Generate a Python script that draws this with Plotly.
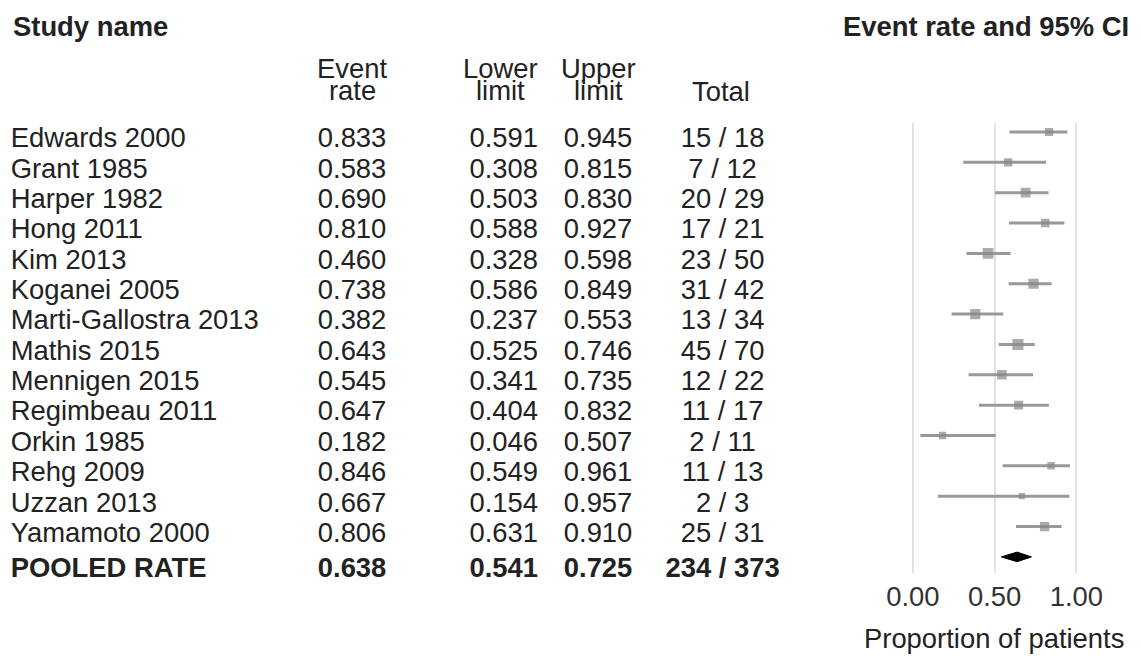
import plotly.graph_objects as go

# ---------------- data ----------------
studies = ["Edwards 2000", "Grant 1985", "Harper 1982", "Hong 2011", "Kim 2013",
           "Koganei 2005", "Marti-Gallostra 2013", "Mathis 2015", "Mennigen 2015",
           "Regimbeau 2011", "Orkin 1985", "Rehg 2009", "Uzzan 2013", "Yamamoto 2000"]
event_rate = [0.833, 0.583, 0.690, 0.810, 0.460, 0.738, 0.382, 0.643, 0.545,
              0.647, 0.182, 0.846, 0.667, 0.806]
lower_limit = [0.591, 0.308, 0.503, 0.588, 0.328, 0.586, 0.237, 0.525, 0.341,
               0.404, 0.046, 0.549, 0.154, 0.631]
upper_limit = [0.945, 0.815, 0.830, 0.927, 0.598, 0.849, 0.553, 0.746, 0.735,
               0.832, 0.507, 0.961, 0.957, 0.910]
events = [15, 7, 20, 17, 23, 31, 13, 45, 12, 11, 2, 11, 2, 25]
totals = [18, 12, 29, 21, 50, 42, 34, 70, 22, 17, 11, 13, 3, 31]

pooled_label = "POOLED RATE"
pooled_rate = 0.638
pooled_lower = 0.541
pooled_upper = 0.725
pooled_events = 234
pooled_total = 373

x_ticks = [0.0, 0.5, 1.0]
x_tick_labels = ["0.00", "0.50", "1.00"]

# ---------------- layout helpers ----------------
W, H = 1141, 660
FONT = "Liberation Sans, Arial, Helvetica, sans-serif"
FS = 27.4
TXT = "#222222"


def X(t):
    # horizontal layout pixel for a target on-screen pixel
    return min((t - 11.3) / 0.9785, W)


rows = list(range(len(studies)))
pooled_row = float(len(studies))
pooled_text_row = pooled_row + 0.15
ROW_PX = 30.35

# table axis: pixels in x, rows in y
tbl_x_dom = 0.775
tbl_x_range = [0, tbl_x_dom * W]
tbl_row0 = 140.5
tbl_y_range = [(H - tbl_row0) / ROW_PX, (0 - tbl_row0) / ROW_PX]

# forest axis
f_row0 = 132
f_top, f_bot = 123, 573
forest_y_dom = [(H - f_bot) / H, (H - f_top) / H]
forest_y_range = [(f_bot - f_row0) / ROW_PX, (f_top - f_row0) / ROW_PX]
px0, px1 = X(910.5), X(1073.3)
per = px1 - px0
xr = [-0.1, 1.1]
forest_x_dom = [(px0 + xr[0] * per) / W, (px0 + xr[1] * per) / W]

col_name_x = X(12)
col_rate_x = X(352)
col_low_x = X(503)
col_up_x = X(597)
col_tot_x = X(721)

fig = go.Figure()


def text_col(x, labels, ys, pos, bold=False):
    fig.add_trace(go.Scatter(
        x=[x] * len(labels), y=ys, mode="text", text=labels,
        textposition=pos, cliponaxis=False,
        textfont=dict(family=FONT, size=FS, color=TXT,
                      weight="bold" if bold else "normal"),
        xaxis="x", yaxis="y", hoverinfo="skip", showlegend=False))


text_col(col_name_x, studies, rows, "middle right")
text_col(col_rate_x, [f"{v:.3f}" for v in event_rate], rows, "middle center")
text_col(col_low_x, [f"{v:.3f}" for v in lower_limit], rows, "middle center")
text_col(col_up_x, [f"{v:.3f}" for v in upper_limit], rows, "middle center")
text_col(col_tot_x, [f"{e} / {t}" for e, t in zip(events, totals)], rows, "middle center")

text_col(col_name_x, [pooled_label], [pooled_text_row], "middle right", bold=True)
text_col(col_rate_x, [f"{pooled_rate:.3f}"], [pooled_text_row], "middle center", bold=True)
text_col(col_low_x, [f"{pooled_lower:.3f}"], [pooled_text_row], "middle center", bold=True)
text_col(col_up_x, [f"{pooled_upper:.3f}"], [pooled_text_row], "middle center", bold=True)
text_col(col_tot_x, [f"{pooled_events} / {pooled_total}"], [pooled_text_row], "middle center", bold=True)

# CI lines
lx, ly = [], []
for r, lo, hi in zip(rows, lower_limit, upper_limit):
    lx += [lo, hi, None]
    ly += [r, r, None]
fig.add_trace(go.Scatter(x=lx, y=ly, mode="lines",
                         line=dict(color="#999999", width=3),
                         xaxis="x2", yaxis="y2", hoverinfo="skip", showlegend=False))

# study markers sized by approximate random-effects weight
sizes = []
for p, n in zip(event_rate, totals):
    v = 1.0 / (n * p * (1 - p))
    w = 1.0 / (v + 0.3)
    sizes.append(5.0 + 2.2 * w)
fig.add_trace(go.Scatter(x=event_rate, y=rows, mode="markers",
                         marker=dict(symbol="square", size=sizes, color="#888888",
                                     line=dict(width=0)),
                         xaxis="x2", yaxis="y2", hoverinfo="skip", showlegend=False))

# pooled diamond
hh = 4.8 / ROW_PX
fig.add_trace(go.Scatter(
    x=[pooled_lower, pooled_rate, pooled_upper, pooled_rate, pooled_lower],
    y=[pooled_row, pooled_row - hh, pooled_row, pooled_row + hh, pooled_row],
    mode="lines", fill="toself", fillcolor="#000000",
    line=dict(color="#000000", width=1),
    xaxis="x2", yaxis="y2", hoverinfo="skip", showlegend=False))


def py(p):
    return 1 - p / H


annotations = []


def ann(text, xpx, ypx, anchor, bold=False):
    annotations.append(dict(
        text=f"<b>{text}</b>" if bold else text,
        x=X(xpx) / W, y=py(ypx), xref="paper", yref="paper",
        xanchor=anchor, yanchor="middle", showarrow=False,
        font=dict(family=FONT, size=FS, color=TXT)))


ann("Study name", 12, 26, "left", bold=True)
ann("Event rate and 95% CI", 1128, 26, "right", bold=True)
ann("Event", 352, 69, "center")
ann("rate", 352, 90, "center")
ann("Lower", 500, 69, "center")
ann("limit", 500, 90, "center")
ann("Upper", 597, 69, "center")
ann("limit", 597, 90, "center")
ann("Total", 719, 91, "center")
ann("Proportion of patients", 991, 638, "center")

fig.update_layout(
    width=W, height=H,
    margin=dict(l=0, r=0, t=0, b=0, pad=0),
    paper_bgcolor="white", plot_bgcolor="white",
    showlegend=False,
    font=dict(family=FONT, size=FS, color=TXT),
    xaxis=dict(domain=[0, tbl_x_dom], range=tbl_x_range, visible=False, fixedrange=True),
    yaxis=dict(domain=[0, 1], range=tbl_y_range, visible=False, fixedrange=True),
    xaxis2=dict(domain=forest_x_dom, range=xr, anchor="y2",
                tickvals=x_ticks, ticktext=x_tick_labels,
                showgrid=True, gridcolor="#e2e2e2", gridwidth=2,
                zeroline=False, showline=False, ticks="",
                ticklabelstandoff=5,
                tickfont=dict(family=FONT, size=FS, color="#333333")),
    yaxis2=dict(domain=forest_y_dom, range=forest_y_range, anchor="x2",
                visible=False, fixedrange=True),
    annotations=annotations,
)

fig.write_html("out.html",
               config={"displayModeBar": False},
               post_script="document.body.style.margin='0';document.body.style.padding='0';")
